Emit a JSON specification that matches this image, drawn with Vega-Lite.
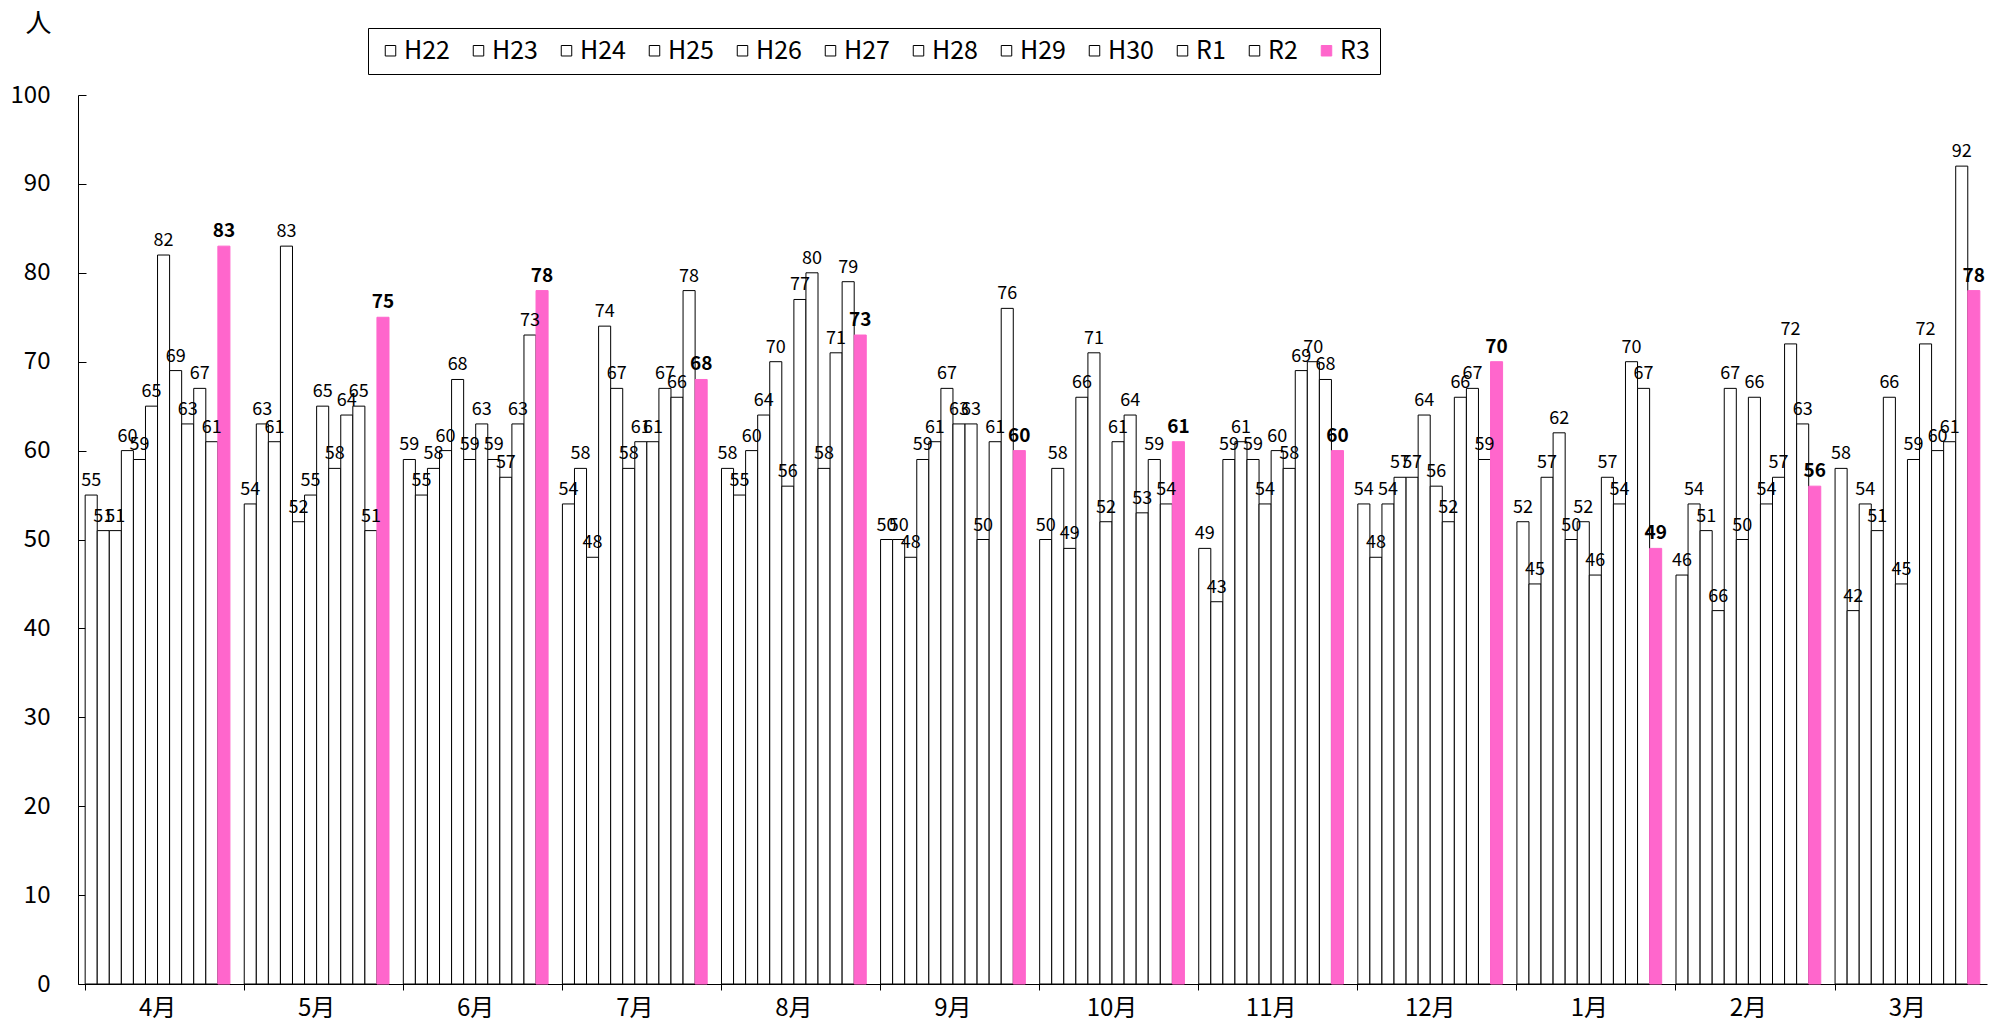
{
  "$schema": "https://vega.github.io/schema/vega-lite/v6.json",
  "width": 1909,
  "height": 889,
  "autosize": {"type": "none"},
  "padding": {"left": 78, "top": 95, "right": 24, "bottom": 44},
  "background": "white",
  "config": {
    "view": {"stroke": null},
    "font": "Noto Sans CJK JP",
    "axis": {"labelFont": "Noto Sans CJK JP", "labelColor": "black", "domainColor": "black", "tickColor": "black", "grid": false}
  },
  "data": {"values": [
    {"m":"4月","s":"H22","v":55,"l":55},{"m":"4月","s":"H23","v":51,"l":51},{"m":"4月","s":"H24","v":51,"l":51},{"m":"4月","s":"H25","v":60,"l":60},{"m":"4月","s":"H26","v":59,"l":59},{"m":"4月","s":"H27","v":65,"l":65},{"m":"4月","s":"H28","v":82,"l":82},{"m":"4月","s":"H29","v":69,"l":69},{"m":"4月","s":"H30","v":63,"l":63},{"m":"4月","s":"R1","v":67,"l":67},{"m":"4月","s":"R2","v":61,"l":61},{"m":"4月","s":"R3","v":83,"l":83},
    {"m":"5月","s":"H22","v":54,"l":54},{"m":"5月","s":"H23","v":63,"l":63},{"m":"5月","s":"H24","v":61,"l":61},{"m":"5月","s":"H25","v":83,"l":83},{"m":"5月","s":"H26","v":52,"l":52},{"m":"5月","s":"H27","v":55,"l":55},{"m":"5月","s":"H28","v":65,"l":65},{"m":"5月","s":"H29","v":58,"l":58},{"m":"5月","s":"H30","v":64,"l":64},{"m":"5月","s":"R1","v":65,"l":65},{"m":"5月","s":"R2","v":51,"l":51},{"m":"5月","s":"R3","v":75,"l":75},
    {"m":"6月","s":"H22","v":59,"l":59},{"m":"6月","s":"H23","v":55,"l":55},{"m":"6月","s":"H24","v":58,"l":58},{"m":"6月","s":"H25","v":60,"l":60},{"m":"6月","s":"H26","v":68,"l":68},{"m":"6月","s":"H27","v":59,"l":59},{"m":"6月","s":"H28","v":63,"l":63},{"m":"6月","s":"H29","v":59,"l":59},{"m":"6月","s":"H30","v":57,"l":57},{"m":"6月","s":"R1","v":63,"l":63},{"m":"6月","s":"R2","v":73,"l":73},{"m":"6月","s":"R3","v":78,"l":78},
    {"m":"7月","s":"H22","v":54,"l":54},{"m":"7月","s":"H23","v":58,"l":58},{"m":"7月","s":"H24","v":48,"l":48},{"m":"7月","s":"H25","v":74,"l":74},{"m":"7月","s":"H26","v":67,"l":67},{"m":"7月","s":"H27","v":58,"l":58},{"m":"7月","s":"H28","v":61,"l":61},{"m":"7月","s":"H29","v":61,"l":61},{"m":"7月","s":"H30","v":67,"l":67},{"m":"7月","s":"R1","v":66,"l":66},{"m":"7月","s":"R2","v":78,"l":78},{"m":"7月","s":"R3","v":68,"l":68},
    {"m":"8月","s":"H22","v":58,"l":58},{"m":"8月","s":"H23","v":55,"l":55},{"m":"8月","s":"H24","v":60,"l":60},{"m":"8月","s":"H25","v":64,"l":64},{"m":"8月","s":"H26","v":70,"l":70},{"m":"8月","s":"H27","v":56,"l":56},{"m":"8月","s":"H28","v":77,"l":77},{"m":"8月","s":"H29","v":80,"l":80},{"m":"8月","s":"H30","v":58,"l":58},{"m":"8月","s":"R1","v":71,"l":71},{"m":"8月","s":"R2","v":79,"l":79},{"m":"8月","s":"R3","v":73,"l":73},
    {"m":"9月","s":"H22","v":50,"l":50},{"m":"9月","s":"H23","v":50,"l":50},{"m":"9月","s":"H24","v":48,"l":48},{"m":"9月","s":"H25","v":59,"l":59},{"m":"9月","s":"H26","v":61,"l":61},{"m":"9月","s":"H27","v":67,"l":67},{"m":"9月","s":"H28","v":63,"l":63},{"m":"9月","s":"H29","v":63,"l":63},{"m":"9月","s":"H30","v":50,"l":50},{"m":"9月","s":"R1","v":61,"l":61},{"m":"9月","s":"R2","v":76,"l":76},{"m":"9月","s":"R3","v":60,"l":60},
    {"m":"10月","s":"H22","v":50,"l":50},{"m":"10月","s":"H23","v":58,"l":58},{"m":"10月","s":"H24","v":49,"l":49},{"m":"10月","s":"H25","v":66,"l":66},{"m":"10月","s":"H26","v":71,"l":71},{"m":"10月","s":"H27","v":52,"l":52},{"m":"10月","s":"H28","v":61,"l":61},{"m":"10月","s":"H29","v":64,"l":64},{"m":"10月","s":"H30","v":53,"l":53},{"m":"10月","s":"R1","v":59,"l":59},{"m":"10月","s":"R2","v":54,"l":54},{"m":"10月","s":"R3","v":61,"l":61},
    {"m":"11月","s":"H22","v":49,"l":49},{"m":"11月","s":"H23","v":43,"l":43},{"m":"11月","s":"H24","v":59,"l":59},{"m":"11月","s":"H25","v":61,"l":61},{"m":"11月","s":"H26","v":59,"l":59},{"m":"11月","s":"H27","v":54,"l":54},{"m":"11月","s":"H28","v":60,"l":60},{"m":"11月","s":"H29","v":58,"l":58},{"m":"11月","s":"H30","v":69,"l":69},{"m":"11月","s":"R1","v":70,"l":70},{"m":"11月","s":"R2","v":68,"l":68},{"m":"11月","s":"R3","v":60,"l":60},
    {"m":"12月","s":"H22","v":54,"l":54},{"m":"12月","s":"H23","v":48,"l":48},{"m":"12月","s":"H24","v":54,"l":54},{"m":"12月","s":"H25","v":57,"l":57},{"m":"12月","s":"H26","v":57,"l":57},{"m":"12月","s":"H27","v":64,"l":64},{"m":"12月","s":"H28","v":56,"l":56},{"m":"12月","s":"H29","v":52,"l":52},{"m":"12月","s":"H30","v":66,"l":66},{"m":"12月","s":"R1","v":67,"l":67},{"m":"12月","s":"R2","v":59,"l":59},{"m":"12月","s":"R3","v":70,"l":70},
    {"m":"1月","s":"H22","v":52,"l":52},{"m":"1月","s":"H23","v":45,"l":45},{"m":"1月","s":"H24","v":57,"l":57},{"m":"1月","s":"H25","v":62,"l":62},{"m":"1月","s":"H26","v":50,"l":50},{"m":"1月","s":"H27","v":52,"l":52},{"m":"1月","s":"H28","v":46,"l":46},{"m":"1月","s":"H29","v":57,"l":57},{"m":"1月","s":"H30","v":54,"l":54},{"m":"1月","s":"R1","v":70,"l":70},{"m":"1月","s":"R2","v":67,"l":67},{"m":"1月","s":"R3","v":49,"l":49},
    {"m":"2月","s":"H22","v":46,"l":46},{"m":"2月","s":"H23","v":54,"l":54},{"m":"2月","s":"H24","v":51,"l":51},{"m":"2月","s":"H25","v":42,"l":66},{"m":"2月","s":"H26","v":67,"l":67},{"m":"2月","s":"H27","v":50,"l":50},{"m":"2月","s":"H28","v":66,"l":66},{"m":"2月","s":"H29","v":54,"l":54},{"m":"2月","s":"H30","v":57,"l":57},{"m":"2月","s":"R1","v":72,"l":72},{"m":"2月","s":"R2","v":63,"l":63},{"m":"2月","s":"R3","v":56,"l":56},
    {"m":"3月","s":"H22","v":58,"l":58},{"m":"3月","s":"H23","v":42,"l":42},{"m":"3月","s":"H24","v":54,"l":54},{"m":"3月","s":"H25","v":51,"l":51},{"m":"3月","s":"H26","v":66,"l":66},{"m":"3月","s":"H27","v":45,"l":45},{"m":"3月","s":"H28","v":59,"l":59},{"m":"3月","s":"H29","v":72,"l":72},{"m":"3月","s":"H30","v":60,"l":60},{"m":"3月","s":"R1","v":61,"l":61},{"m":"3月","s":"R2","v":92,"l":92},{"m":"3月","s":"R3","v":78,"l":78}
  ]},
  "encoding": {
    "x": {
      "field": "m", "type": "nominal", "sort": null,
      "scale": {"paddingInner": 0.09, "paddingOuter": 0.045},
      "axis": {"title": null, "labelAngle": 0, "labelFontSize": 24, "labelPadding": 6, "tickSize": 6, "bandPosition": 0, "domainWidth": 1}
    },
    "xOffset": {"field": "s", "type": "nominal", "sort": null, "scale": {"paddingInner": 0, "paddingOuter": 0}},
    "y": {
      "field": "v", "type": "quantitative",
      "scale": {"domain": [0, 100], "nice": false},
      "axis": {"title": "人", "titleAngle": 0, "titleX": -40, "titleY": -72, "titleAlign": "center", "titleBaseline": "middle", "titleFontSize": 26, "titleFontWeight": "normal", "titleFont": "Noto Sans CJK JP", "values": [0,10,20,30,40,50,60,70,80,90,100], "labelFontSize": 24, "tickSize": -8, "labelPadding": 36}
    }
  },
  "layer": [
    {
      "mark": {"type": "bar", "strokeWidth": 1},
      "encoding": {
        "fill": {
          "field": "s", "type": "nominal", "sort": null,
          "scale": {"domain": ["H22","H23","H24","H25","H26","H27","H28","H29","H30","R1","R2","R3"], "range": ["white","white","white","white","white","white","white","white","white","white","white","#FF66CC"]},
          "legend": {"title": null, "orient": "none", "legendX": 290, "legendY": -67, "direction": "horizontal", "columns": 12, "symbolType": "square", "symbolSize": 110, "symbolStrokeWidth": 1, "labelFontSize": 25, "labelFont": "Noto Sans CJK JP", "labelColor": "black", "labelOffset": 1, "columnPadding": 16, "strokeColor": "black", "padding": 10, "fillColor": "white"}
        },
        "stroke": {
          "field": "s", "type": "nominal", "sort": null,
          "scale": {"domain": ["H22","H23","H24","H25","H26","H27","H28","H29","H30","R1","R2","R3"], "range": ["black","black","black","black","black","black","black","black","black","black","black","#FF66CC"]}
        }
      }
    },
    {
      "transform": [{"filter": "datum.s != 'R3'"}],
      "mark": {"type": "text", "baseline": "alphabetic", "dy": -9, "fontSize": 18, "font": "Noto Sans CJK JP", "color": "black"},
      "encoding": {"text": {"field": "l", "type": "quantitative", "format": "d"}}
    },
    {
      "transform": [{"filter": "datum.s == 'R3'"}],
      "mark": {"type": "text", "baseline": "alphabetic", "dy": -9, "fontSize": 19, "fontWeight": "bold", "font": "Noto Sans CJK JP", "color": "black"},
      "encoding": {"text": {"field": "l", "type": "quantitative", "format": "d"}}
    }
  ]
}
